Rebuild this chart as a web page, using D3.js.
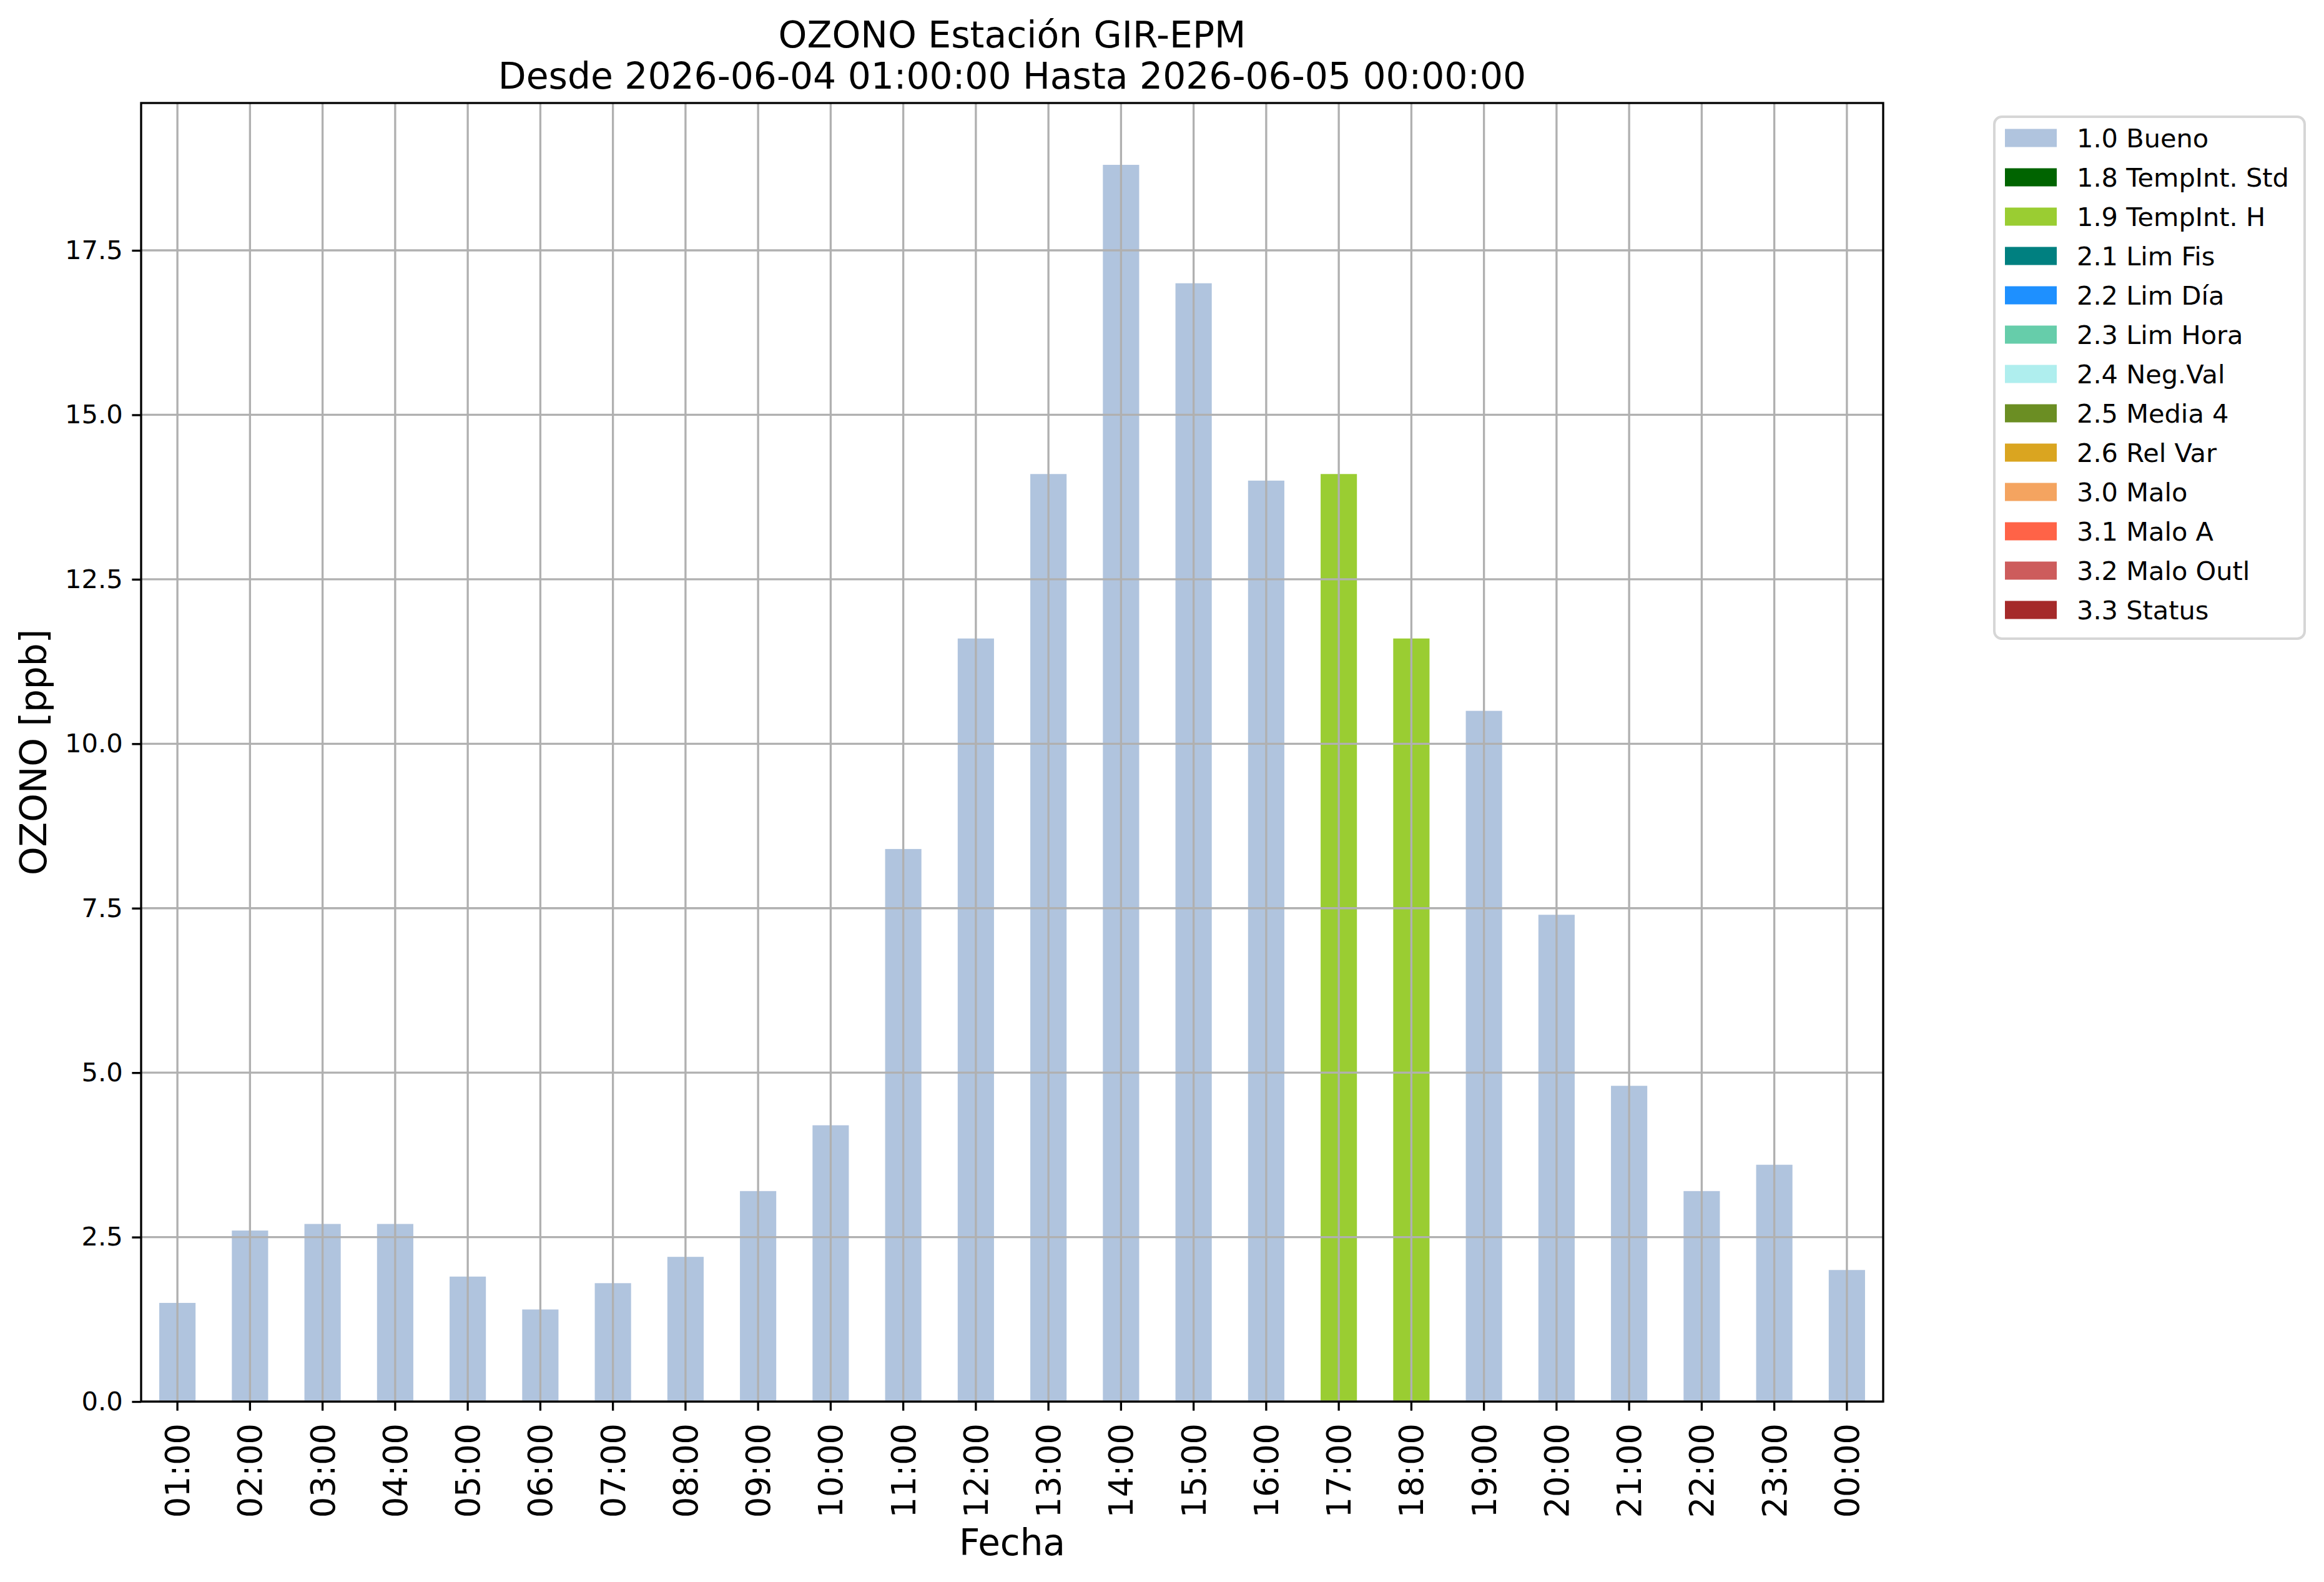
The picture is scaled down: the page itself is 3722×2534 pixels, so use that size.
<!DOCTYPE html>
<html>
<head>
<meta charset="utf-8">
<script src="https://cdn.jsdelivr.net/npm/d3@7"></script>
<style>
  body { margin: 0; background: #fff; }
  text { font-family: "DejaVu Sans", sans-serif; fill: #000; }
</style>
</head>
<body>
<svg id="canvas" width="3722" height="2534"></svg>
<script>
// horas del periodo
let hours = ['01:00','02:00','03:00','04:00','05:00','06:00','07:00','08:00','09:00','10:00','11:00','12:00',
             '13:00','14:00','15:00','16:00','17:00','18:00','19:00','20:00','21:00','22:00','23:00','00:00']
// ozono [ppb]
let ozono = [1.5, 2.6, 2.7, 2.7, 1.9, 1.4, 1.8, 2.2, 3.2, 4.2, 8.4, 11.6,
             14.1, 18.8, 17.0, 14.0, 14.1, 11.6, 10.5, 7.4, 4.8, 3.2, 3.6, 2.0]
// bandera de calidad de cada hora
let flags = ['1.0 Bueno','1.0 Bueno','1.0 Bueno','1.0 Bueno','1.0 Bueno','1.0 Bueno','1.0 Bueno','1.0 Bueno',
             '1.0 Bueno','1.0 Bueno','1.0 Bueno','1.0 Bueno','1.0 Bueno','1.0 Bueno','1.0 Bueno','1.0 Bueno',
             '1.9 TempInt. H','1.9 TempInt. H','1.0 Bueno','1.0 Bueno','1.0 Bueno','1.0 Bueno','1.0 Bueno','1.0 Bueno']

let flagNames = ['1.0 Bueno','1.8 TempInt. Std','1.9 TempInt. H','2.1 Lim Fis','2.2 Lim Día','2.3 Lim Hora',
                 '2.4 Neg.Val','2.5 Media 4','2.6 Rel Var','3.0 Malo','3.1 Malo A','3.2 Malo Outl','3.3 Status']
let flagColors = ['lightsteelblue','darkgreen','yellowgreen','teal','dodgerblue','mediumaquamarine',
                  'paleturquoise','olivedrab','goldenrod','sandybrown','tomato','indianred','brown']

let yTicks = [0, 2.5, 5, 7.5, 10, 12.5, 15, 17.5]

let titleLines = ['OZONO Estación GIR-EPM', 'Desde 2026-06-04 01:00:00 Hasta 2026-06-05 00:00:00']

let canvas = d3.select('#canvas')

let plotLeft = 226, plotRight = 3016, plotTop = 165, plotBottom = 2245
let lw = 3.33

let xScale = d3.scaleBand()
               .domain(hours)
               .range([plotLeft, plotRight])
               .paddingInner(0.5)
               .paddingOuter(0.25)

let yScale = d3.scaleLinear()
               .domain([0, d3.max(ozono) * 1.05])
               .range([plotBottom, plotTop])

let color = d3.scaleOrdinal().domain(flagNames).range(flagColors)

let data = hours.map((h, i) => ({hour: h, value: ozono[i], flag: flags[i]}))

// barras
canvas.append('g')
      .selectAll('rect')
      .data(data)
      .enter()
      .append('rect')
      .attr('x', (d) => xScale(d.hour))
      .attr('width', xScale.bandwidth())
      .attr('y', (d) => yScale(d.value))
      .attr('height', (d) => yScale(0) - yScale(d.value))
      .attr('fill', (d) => color(d.flag))

// rejilla encima de las barras
let grid = canvas.append('g').attr('stroke', '#b0b0b0').attr('stroke-width', lw)
grid.selectAll('.gx')
    .data(hours)
    .enter()
    .append('line')
    .attr('x1', (h) => xScale(h) + xScale.bandwidth() / 2)
    .attr('x2', (h) => xScale(h) + xScale.bandwidth() / 2)
    .attr('y1', plotTop)
    .attr('y2', plotBottom)
grid.selectAll('.gy')
    .data(yTicks)
    .enter()
    .append('line')
    .attr('x1', plotLeft)
    .attr('x2', plotRight)
    .attr('y1', (v) => yScale(v))
    .attr('y2', (v) => yScale(v))

// ejes
let xAxis = d3.axisBottom(xScale).tickSize(14.6).tickPadding(14.6)
let yAxis = d3.axisLeft(yScale).tickValues(yTicks).tickFormat(d3.format('.1f')).tickSize(14.6).tickPadding(14.6)

let gx = canvas.append('g').attr('transform', 'translate(0,' + plotBottom + ')').call(xAxis)
gx.select('.domain').remove()
gx.selectAll('line').attr('stroke', '#000').attr('stroke-width', lw)
gx.selectAll('text')
  .attr('font-size', 52.5)
  .attr('font-family', '"DejaVu Sans", sans-serif')
  .attr('text-anchor', 'end')
  .attr('y', 0)
  .attr('dy', '0.36em')
  .attr('transform', 'translate(0,35) rotate(-90)')

let gy = canvas.append('g').attr('transform', 'translate(' + plotLeft + ',0)').call(yAxis)
gy.select('.domain').remove()
gy.selectAll('line').attr('stroke', '#000').attr('stroke-width', lw)
gy.selectAll('text')
  .attr('font-size', 41.7)
  .attr('font-family', '"DejaVu Sans", sans-serif')

// marco
canvas.append('rect')
      .attr('x', plotLeft).attr('y', plotTop)
      .attr('width', plotRight - plotLeft).attr('height', plotBottom - plotTop)
      .attr('fill', 'none')
      .attr('stroke', '#000')
      .attr('stroke-width', lw)

// titulos
canvas.selectAll('.title')
      .data(titleLines)
      .enter()
      .append('text')
      .attr('x', (plotLeft + plotRight) / 2)
      .attr('y', (d, i) => 76 + i * 66)
      .attr('text-anchor', 'middle')
      .attr('font-size', 58.3)
      .text((d) => d)

canvas.append('text')
      .attr('x', (plotLeft + plotRight) / 2)
      .attr('y', 2491)
      .attr('text-anchor', 'middle')
      .attr('font-size', 58)
      .text('Fecha')

canvas.append('text')
      .attr('transform', 'translate(74,' + (plotTop + plotBottom) / 2 + ') rotate(-90)')
      .attr('text-anchor', 'middle')
      .attr('font-size', 58)
      .text('OZONO [ppb]')

// leyenda
let legend = canvas.append('g')
legend.append('rect')
      .attr('x', 3194).attr('y', 187)
      .attr('width', 497).attr('height', 836)
      .attr('rx', 12)
      .attr('fill', '#fff')
      .attr('stroke', '#d6d6d6')
      .attr('stroke-width', 4)

let item = legend.selectAll('.item')
      .data(flagNames)
      .enter()
      .append('g')
      .attr('transform', (d, i) => 'translate(0,' + (221 + i * 63.0) + ')')

item.append('rect')
    .attr('x', 3211).attr('y', -14.5)
    .attr('width', 83).attr('height', 29)
    .attr('fill', (d) => color(d))

item.append('text')
    .attr('x', 3326)
    .attr('y', 14.5)
    .attr('font-size', 41.5)
    .text((d) => d)
</script>
</body>
</html>
